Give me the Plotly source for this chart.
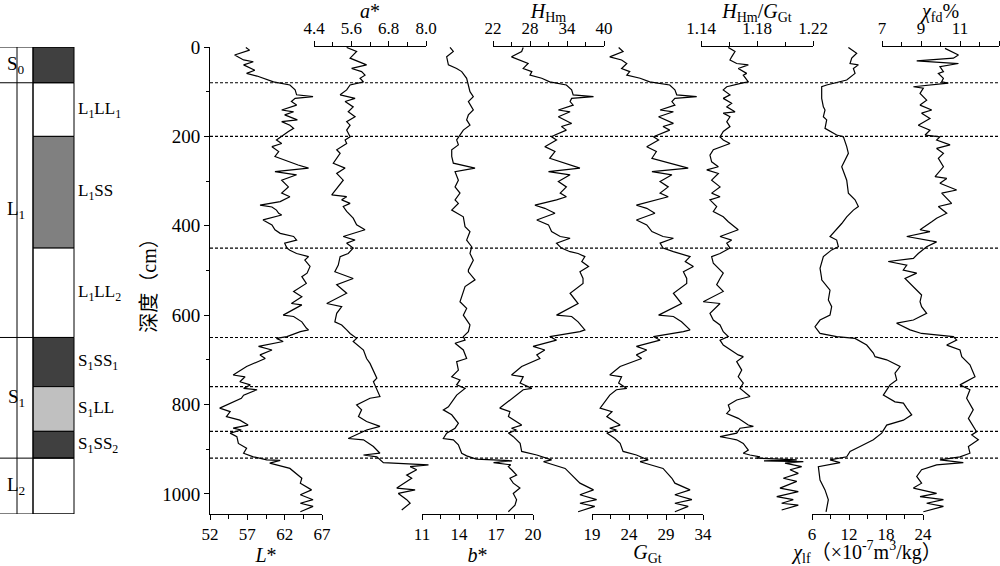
import plotly.graph_objects as go

# ---------------- data ----------------
boundary_depths = [80, 200, 450, 650, 760, 860, 920]

layer_top = [0, 80, 200, 450, 650, 760, 860, 920]
layer_bottom = [80, 200, 450, 650, 760, 860, 920, 1045]
layer_colors = ["#404040", "#ffffff", "#808080", "#ffffff", "#404040", "#c0c0c0", "#404040", "#ffffff"]
layer_labels = ["", "L<sub>1</sub>LL<sub>1</sub>", "L<sub>1</sub>SS", "L<sub>1</sub>LL<sub>2</sub>",
                "S<sub>1</sub>SS<sub>1</sub>", "S<sub>1</sub>LL", "S<sub>1</sub>SS<sub>2</sub>", ""]
group_labels = ["S<sub>0</sub>", "L<sub>1</sub>", "S<sub>1</sub>", "L<sub>2</sub>"]
group_top = [0, 80, 650, 920]
group_bottom = [80, 650, 920, 1045]

L_depth = [1, 7, 18, 29, 33, 40, 52, 59, 65, 70, 78, 85, 96, 107, 111, 115, 122, 130, 141, 145, 152, 163, 167, 175, 182, 189,
           201, 208, 216, 223, 234, 245, 264, 271, 279, 286, 298, 313, 327, 335, 346, 354, 358, 365, 372, 376, 387, 398, 409,
           417, 424, 432, 439, 450, 455, 462, 469, 477, 491, 506, 514, 529, 547, 559, 574, 577, 600, 603, 615, 629, 633, 637,
           648, 652, 659, 670, 678, 689, 697, 715, 734, 738, 749, 756, 764, 767, 779, 786, 808, 816, 827, 835, 846, 853, 857,
           864, 872, 887, 898, 909, 917, 924, 925, 931, 943, 965, 976, 991, 1002, 1013, 1021, 1028, 1040]
L_val = [56.8, 57.3, 55.3, 56.5, 57.8, 56.5, 58.0, 56.9, 58.3, 59.1, 60.5, 62.7, 63.4, 63.6, 65.8, 63.4, 62.9, 63.6, 61.6, 63.2,
         62.0, 63.7, 61.6, 62.7, 63.2, 62.5, 61.4, 60.9, 61.6, 60.3, 61.2, 60.7, 63.8, 65.2, 60.7, 63.6, 61.6, 62.5, 61.6, 62.7,
         61.4, 58.7, 60.3, 60.9, 61.2, 61.6, 59.1, 60.3, 60.7, 61.4, 63.2, 63.6, 62.0, 62.3, 62.7, 63.6, 65.2, 64.7, 65.4, 65.0,
         64.3, 64.9, 63.2, 64.3, 62.9, 64.3, 61.8, 63.2, 64.3, 64.9, 65.2, 64.1, 62.3, 60.9, 61.8, 58.5, 60.3, 58.7, 59.4, 56.9,
         55.1, 56.7, 56.0, 57.4, 56.5, 58.3, 56.5, 56.2, 53.3, 54.7, 54.2, 56.0, 57.1, 55.1, 56.2, 54.7, 55.6, 55.8, 56.9, 56.5,
         57.8, 59.6, 61.4, 60.0, 62.7, 64.3, 64.1, 65.6, 64.1, 65.8, 64.1, 65.8, 64.1]

a_depth = [1, 10, 25, 40, 48, 55, 63, 70, 78, 85, 96, 107, 115, 122, 134, 145, 156, 167, 175, 186, 201, 208, 216, 230, 238, 260,
           271, 283, 298, 313, 331, 335, 342, 350, 357, 368, 383, 398, 409, 424, 432, 439, 450, 462, 469, 488, 503, 518, 532,
           551, 574, 581, 596, 615, 622, 633, 641, 652, 659, 678, 697, 708, 723, 741, 749, 782, 786, 801, 812, 827, 838, 849,
           857, 868, 876, 879, 894, 909, 913, 917, 930, 935, 939, 946, 958, 965, 987, 991, 999, 1013, 1021, 1036]
a_val = [5.45, 5.77, 5.56, 6.09, 5.61, 5.93, 6.04, 5.88, 5.99, 5.56, 5.45, 5.24, 5.72, 5.40, 5.66, 5.50, 5.72, 5.45, 5.56, 5.45,
         5.56, 5.40, 5.45, 5.13, 5.24, 5.02, 5.40, 5.13, 5.34, 5.18, 4.97, 5.45, 5.29, 5.56, 5.34, 5.45, 5.66, 5.77, 6.04, 5.34,
         5.72, 5.45, 5.66, 5.50, 5.24, 5.18, 5.07, 5.66, 5.13, 5.45, 4.81, 5.29, 5.13, 5.07, 5.29, 5.45, 5.56, 5.77, 5.66, 5.99,
         6.09, 6.20, 6.31, 6.42, 6.31, 6.52, 6.20, 5.77, 5.93, 5.83, 6.09, 6.52, 6.09, 5.77, 5.50, 5.99, 6.31, 6.52, 5.99, 6.42,
         6.63, 8.08, 7.49, 7.70, 7.38, 7.54, 7.06, 7.65, 7.11, 7.38, 7.49, 7.22]

b_depth = [1, 10, 22, 40, 48, 55, 70, 85, 100, 111, 122, 141, 152, 163, 175, 186, 201, 208, 219, 230, 245, 260, 271, 279, 298,
           313, 327, 342, 350, 365, 380, 402, 413, 432, 447, 462, 477, 499, 503, 521, 536, 570, 585, 600, 622, 637, 648, 656,
           663, 678, 697, 704, 723, 738, 745, 756, 764, 779, 805, 812, 823, 842, 853, 864, 876, 879, 890, 909, 915, 922, 926,
           930, 935, 939, 946, 958, 965, 976, 987, 999, 1013, 1025, 1040]
b_val = [13.27, 13.54, 13.00, 13.14, 13.81, 14.22, 14.62, 14.76, 14.89, 15.16, 14.76, 15.16, 14.76, 14.62, 14.89, 14.35, 13.95,
         13.81, 13.95, 13.41, 13.41, 13.54, 15.30, 13.68, 13.95, 13.68, 14.08, 13.68, 13.95, 13.41, 14.35, 14.49, 14.89, 14.62,
         15.03, 14.89, 15.16, 14.76, 14.76, 15.30, 14.49, 14.08, 14.62, 14.35, 14.89, 14.76, 14.35, 14.49, 13.68, 14.35, 14.62,
         13.81, 13.95, 13.41, 14.08, 13.81, 14.49, 13.81, 13.14, 12.73, 13.41, 13.95, 13.68, 13.00, 12.73, 13.54, 13.95, 14.22,
         14.62, 15.40, 18.30, 16.80, 18.20, 18.00, 18.27, 18.67, 18.13, 18.40, 18.94, 18.40, 18.67, 18.54, 18.00]

H_depth = [1, 10, 22, 29, 37, 48, 55, 63, 70, 78, 85, 96, 107, 111, 115, 122, 130, 141, 145, 156, 171, 178, 186, 197, 201, 208,
           223, 234, 249, 271, 279, 286, 301, 313, 327, 335, 342, 354, 361, 372, 387, 398, 413, 424, 428, 439, 450, 458, 462,
           469, 480, 491, 503, 518, 529, 551, 574, 600, 603, 615, 633, 637, 648, 656, 670, 678, 689, 697, 715, 734, 738, 752,
           764, 767, 779, 808, 816, 827, 846, 853, 857, 864, 872, 887, 905, 913, 924, 928, 943, 965, 976, 991, 1002, 1013, 1021,
           1028, 1040]
H_val = [26.9, 26.65, 25.0, 26.4, 27.7, 26.9, 28.3, 28.0, 29.9, 31.2, 33.9, 34.75, 35.0, 38.3, 34.75, 34.5, 35.0, 32.6, 34.5,
         32.6, 34.75, 33.1, 33.9, 32.05, 31.5, 32.3, 30.4, 32.05, 31.2, 36.1, 31.0, 34.5, 32.6, 33.9, 32.9, 33.9, 32.3, 28.8, 30.4,
         32.05, 29.1, 31.0, 31.5, 32.9, 34.5, 32.3, 33.1, 34.5, 35.8, 36.9, 36.4, 37.5, 36.1, 36.6, 36.6, 34.5, 35.8, 32.3, 34.75,
         35.8, 36.9, 36.1, 31.2, 32.3, 28.5, 30.4, 29.1, 29.6, 26.65, 25.0, 26.9, 26.4, 28.3, 26.9, 25.8, 23.1, 24.75, 24.5,
         26.65, 25.0, 25.8, 24.5, 25.3, 26.4, 26.65, 29.1, 31.5, 30.2, 33.7, 35.3, 36.1, 38.3, 36.1, 38.8, 36.1, 38.5, 35.8]

G_depth = [1, 10, 22, 29, 37, 48, 55, 63, 70, 78, 85, 96, 107, 111, 115, 122, 130, 141, 145, 156, 171, 178, 186, 201, 208, 223,
           234, 249, 271, 279, 286, 301, 313, 327, 335, 342, 354, 361, 372, 387, 398, 413, 424, 428, 439, 450, 458, 469, 480,
           491, 503, 518, 529, 551, 574, 600, 603, 615, 633, 637, 648, 656, 670, 678, 689, 697, 715, 734, 738, 752, 764, 767,
           779, 808, 816, 827, 846, 853, 857, 864, 876, 887, 905, 913, 924, 928, 943, 965, 976, 991, 1002, 1013, 1021, 1028, 1040]
G_val = [22.6, 23.2, 21.4, 23.0, 23.7, 23.0, 24.1, 23.7, 25.5, 26.8, 29.5, 30.2, 30.45, 33.15, 30.2, 29.8, 30.2, 28.2, 30.0, 28.0,
         30.0, 28.6, 29.5, 27.3, 28.0, 26.4, 27.7, 27.1, 32.0, 27.1, 29.8, 28.2, 29.3, 28.2, 29.3, 27.7, 25.0, 26.4, 27.5, 25.0,
         26.4, 27.1, 28.6, 30.0, 28.2, 28.6, 30.0, 32.25, 31.6, 32.7, 31.35, 31.8, 31.8, 30.0, 31.1, 28.0, 30.0, 31.1, 32.25, 31.35,
         27.3, 28.2, 25.0, 26.4, 25.0, 25.7, 22.8, 21.4, 23.0, 22.6, 23.7, 22.3, 21.4, 20.1, 21.7, 21.0, 22.8, 21.4, 22.3, 21.0,
         22.1, 22.8, 23.2, 25.0, 26.6, 25.5, 28.6, 29.8, 30.2, 32.25, 30.2, 32.5, 30.2, 32.0, 30.2]

HG_depth = [1, 10, 22, 29, 37, 40, 48, 59, 63, 78, 81, 89, 96, 107, 115, 126, 134, 145, 148, 156, 167, 178, 189, 201, 208, 216,
            230, 242, 257, 268, 275, 283, 298, 313, 327, 335, 342, 357, 368, 380, 391, 409, 424, 432, 439, 450, 462, 469, 484,
            506, 518, 532, 547, 570, 574, 596, 611, 622, 637, 648, 656, 667, 689, 693, 704, 723, 738, 752, 764, 782, 790, 801,
            812, 820, 831, 846, 849, 853, 864, 872, 876, 879, 887, 902, 909, 913, 917, 920, 924, 926, 928, 931, 939, 946, 954,
            965, 972, 987, 995, 1006, 1013, 1021, 1025, 1036]
HG_val = [1.1595, 1.1643, 1.1619, 1.1607, 1.1655, 1.1738, 1.1666, 1.1726, 1.1702, 1.1738, 1.1691, 1.1584, 1.1559, 1.1607,
          1.1559, 1.1619, 1.1584, 1.1643, 1.1559, 1.1607, 1.1584, 1.1607, 1.1559, 1.1536, 1.1559, 1.1607, 1.1488, 1.1464,
          1.1476, 1.1524, 1.1441, 1.1524, 1.1476, 1.1536, 1.1476, 1.1536, 1.1464, 1.1512, 1.1488, 1.1559, 1.1595, 1.1666,
          1.1536, 1.1619, 1.1584, 1.1607, 1.1536, 1.1476, 1.1488, 1.1559, 1.1536, 1.1512, 1.1559, 1.1416, 1.1536, 1.1464,
          1.1488, 1.1536, 1.1559, 1.1595, 1.1536, 1.1559, 1.1666, 1.1702, 1.1655, 1.1691, 1.1666, 1.1702, 1.1679, 1.1750,
          1.1655, 1.1595, 1.1607, 1.1584, 1.1666, 1.1738, 1.1774, 1.1679, 1.1655, 1.1536, 1.1607, 1.1655, 1.1702, 1.1738,
          1.1702, 1.1750, 1.1821, 1.1798, 1.2084, 1.1850, 1.2131, 1.2000, 1.2119, 1.2036, 1.2095, 1.1988, 1.2084, 1.1964,
          1.2095, 1.1941, 1.2059, 1.1976, 1.2095, 1.1976]

xlf_depth = [1, 14, 25, 37, 40, 48, 59, 74, 85, 89, 115, 134, 141, 156, 163, 182, 197, 201, 223, 238, 268, 298, 327, 342, 357,
             365, 380, 395, 424, 432, 447, 454, 469, 484, 495, 518, 521, 544, 566, 581, 600, 611, 626, 641, 648, 652, 667, 685,
             693, 700, 715, 730, 745, 756, 779, 794, 797, 808, 823, 835, 846, 864, 879, 894, 905, 917, 924, 930, 935, 939, 969,
             991, 1013, 1040]
xlf_val = [11.9, 13.25, 12.44, 12.17, 13.52, 12.71, 12.98, 11.63, 8.38, 7.57, 7.57, 7.84, 8.11, 7.84, 8.38, 8.11, 10.0, 11.09,
           11.63, 11.9, 10.82, 11.63, 11.9, 12.98, 13.52, 12.71, 11.63, 10.82, 8.92, 10.0, 10.28, 9.19, 7.84, 7.57, 7.3, 7.57,
           7.57, 8.92, 8.65, 9.19, 8.92, 7.3, 6.49, 7.3, 10.0, 12.98, 14.87, 15.95, 16.22, 18.11, 20.28, 19.46, 19.74, 18.65,
           17.57, 19.46, 20.82, 21.36, 22.17, 20.82, 18.11, 17.3, 15.95, 13.79, 12.17, 11.63, 8.92, 10.55, 8.38, 7.03, 7.3,
           8.11, 8.65, 8.28]

xfd_depth = [3, 18, 25, 31, 37, 44, 55, 59, 70, 78, 81, 89, 92, 104, 119, 130, 141, 148, 160, 175, 186, 197, 201, 208, 219, 227,
             238, 249, 268, 290, 294, 305, 320, 327, 350, 357, 372, 383, 391, 409, 413, 424, 436, 447, 462, 473, 480, 488, 499,
             506, 518, 529, 555, 570, 581, 596, 611, 618, 633, 641, 648, 656, 667, 678, 693, 711, 738, 756, 767, 786, 812, 831,
             861, 868, 879, 894, 909, 917, 924, 930, 935, 946, 961, 976, 987, 999, 1006, 1013, 1021, 1028, 1040]
xfd_val = [10.23, 10.92, 10.66, 8.78, 10.92, 9.97, 10.15, 9.89, 10.15, 10.06, 10.40, 8.61, 9.12, 8.95, 9.29, 8.95, 9.55, 9.03,
           9.46, 8.86, 9.46, 9.21, 9.97, 9.80, 10.49, 9.80, 10.15, 9.89, 10.15, 9.72, 10.32, 9.97, 10.83, 10.06, 10.57, 9.89,
           10.32, 9.80, 9.55, 8.95, 9.46, 8.27, 9.80, 9.29, 8.86, 8.61, 7.32, 8.27, 8.09, 8.78, 8.18, 8.44, 9.03, 8.95, 9.03,
           9.29, 8.61, 7.75, 8.44, 9.03, 10.66, 10.83, 10.32, 11.00, 11.09, 11.51, 11.77, 11.00, 11.51, 11.34, 11.68, 11.43,
           11.85, 11.60, 11.94, 11.43, 11.51, 11.00, 9.97, 11.17, 9.80, 9.03, 8.78, 9.03, 8.61, 9.80, 8.95, 10.15, 9.29,
           10.15, 9.12]

depth_ticks = [0, 200, 400, 600, 800, 1000]
depth_minor = [100, 300, 500, 700, 900]
depth_range = [1045, 0]

# axis specs: (title, side, domain, range, major ticks, minor ticks, format, depth list, value list, title standoff)
series = [
    ("<i>L</i>*", "bottom", [0.210, 0.322], [52, 67], [52, 57, 62, 67], [54.5, 59.5, 64.5], "", L_depth, L_val, 5),
    ("<i>a</i>*", "top", [0.314, 0.426], [4.4, 8.0], [4.4, 5.6, 6.8, 8.0], [5.0, 6.2, 7.4], ".1f", a_depth, a_val, 5),
    ("<i>b</i>*", "bottom", [0.422, 0.533], [11, 20], [11, 14, 17, 20], [12.5, 15.5, 18.5], "", b_depth, b_val, 5),
    ("<i>H</i><sub>Hm</sub>", "top", [0.493, 0.604], [22, 40], [22, 28, 34, 40], [25, 31, 37], "", H_depth, H_val, 5),
    ("<i>G</i><sub>Gt</sub>", "bottom", [0.592, 0.703], [19, 34], [19, 24, 29, 34], [21.5, 26.5, 31.5], "", G_depth, G_val, 5),
    ("<i>H</i><sub>Hm</sub>/<i>G</i><sub>Gt</sub>", "top", [0.701, 0.813], [1.14, 1.22], [1.14, 1.18, 1.22], [1.16, 1.20], ".2f",
     HG_depth, HG_val, 6),
    ("<i>χ</i><sub>lf</sub>（×10<sup>-7</sup>m<sup>3</sup>/kg）", "bottom", [0.812, 0.923], [6, 24], [6, 12, 18, 24], [9, 15, 21],
     "", xlf_depth, xlf_val, 7),
    ("<i>χ</i><sub>fd</sub>%", "top", [0.882, 0.999], [7, 13], [7, 9, 11, 13], [8, 10, 12], "", xfd_depth, xfd_val, 6),
]

FONT = "Liberation Serif, Noto Sans CJK SC, serif"


def axname(k):
    return "xaxis" if k == 1 else "xaxis%d" % k


def axref(k):
    return "x" if k == 1 else "x%d" % k


fig = go.Figure()
layout = dict(
    width=1000, height=566,
    margin=dict(l=0, r=0, t=47, b=52, pad=0),
    paper_bgcolor="white", plot_bgcolor="rgba(0,0,0,0)",
    showlegend=False, hovermode=False,
    font=dict(family=FONT, size=17, color="black"),
    template="none",
)

n = len(series)
y_anchor_axis = axref(n + 1)  # the L* display axis starts where the depth axis sits
layout["yaxis"] = dict(
    range=depth_range, domain=[0, 1], anchor=y_anchor_axis, side="left",
    showline=True, linecolor="black", linewidth=1,
    ticks="outside", ticklen=5, tickcolor="black", tickvals=depth_ticks,
    minor=dict(tickvals=depth_minor, ticks="outside", ticklen=3, tickcolor="black", showgrid=False),
    showgrid=False, zeroline=False, automargin=False,
    tickfont=dict(size=19, family=FONT),
    title=dict(text="深度（cm）", font=dict(size=20, family=FONT), standoff=0),
)

for i, (title, side, dom, rng, tv, mv, fmt, dep, val, so) in enumerate(series):
    data_ax = i + 1
    disp_ax = n + i + 1
    span = rng[1] - rng[0]
    per = span / (dom[1] - dom[0])
    full_rng = [rng[0] - dom[0] * per, rng[0] + (1 - dom[0]) * per]
    layout[axname(data_ax)] = dict(domain=[0, 1], range=full_rng, anchor="y",
                                   showline=False, showticklabels=False, ticks="",
                                   showgrid=False, zeroline=False, automargin=False)
    eps = span * 1e-6
    layout[axname(disp_ax)] = dict(
        domain=dom, range=[rng[0] - eps, rng[1] + eps], anchor="y", side=side,
        showline=True, linecolor="black", linewidth=1,
        ticks="outside", ticklen=5, tickcolor="black", tickvals=tv, tickformat=fmt,
        minor=dict(tickvals=mv, ticks="outside", ticklen=4, tickcolor="black", showgrid=False),
        showgrid=False, zeroline=False, automargin=False,
        tickfont=dict(size=17, family=FONT),
        title=dict(text=title, font=dict(size=20, family=FONT), standoff=so),
    )
    fig.add_trace(go.Scatter(x=val, y=dep, mode="lines", line=dict(color="black", width=1.2),
                             xaxis=axref(data_ax), yaxis="y", hoverinfo="skip"))
    fig.add_trace(go.Scatter(x=[rng[0]], y=[0], mode="markers", marker=dict(opacity=0, size=1),
                             xaxis=axref(disp_ax), yaxis="y", hoverinfo="skip"))

# stratigraphic column as horizontal bars
col_ax = 2 * n + 1
col_px = [33, 74]
dom_px = [28, 79]
col_per = 1.0 / (col_px[1] - col_px[0])
layout[axname(col_ax)] = dict(domain=[dom_px[0] / 1000, dom_px[1] / 1000],
                              range=[(dom_px[0] - col_px[0]) * col_per, 1 + (dom_px[1] - col_px[1]) * col_per],
                              anchor="y", showline=False, showticklabels=False, ticks="",
                              showgrid=False, zeroline=False, automargin=False)
mids = [(a + b) / 2 for a, b in zip(layer_top, layer_bottom)]
thick = [b - a for a, b in zip(layer_top, layer_bottom)]
fig.add_trace(go.Bar(x=[1] * len(mids), y=mids, width=thick, base=0, orientation="h",
                     marker=dict(color=layer_colors, line=dict(color="black", width=1)),
                     xaxis=axref(col_ax), yaxis="y", hoverinfo="skip"))

shapes = []
for d in boundary_depths:
    shapes.append(dict(type="line", xref="paper", yref="y", x0=0.21, x1=1.0, y0=d, y1=d,
                       line=dict(color="black", width=1.2, dash="3px,2px")))
for d in group_top + [group_bottom[-1]]:
    shapes.append(dict(type="line", xref="paper", yref="y", x0=0.0, x1=0.074, y0=d, y1=d,
                       line=dict(color="black", width=1)))
shapes.append(dict(type="line", xref="paper", yref="y", x0=0.017, x1=0.017, y0=0, y1=group_bottom[-1],
                   line=dict(color="black", width=1)))
shapes.append(dict(type="line", xref="paper", yref="y", x0=0.033, x1=0.033, y0=0, y1=group_bottom[-1] + 14,
                   line=dict(color="black", width=1)))
layout["shapes"] = shapes

ann = []
for name, a, b in zip(group_labels, group_top, group_bottom):
    ann.append(dict(text=name, xref="paper", yref="y", x=0.016, y=(a + b) / 2, showarrow=False,
                    xanchor="center", yanchor="middle", font=dict(size=19, family=FONT)))
for name, a, b in zip(layer_labels, layer_top, layer_bottom):
    if name:
        ann.append(dict(text=name, xref="paper", yref="y", x=0.076, y=(a + b) / 2, showarrow=False,
                        xanchor="left", yanchor="middle", font=dict(size=17, family=FONT)))
layout["annotations"] = ann

fig.update_layout(**layout)
fig.write_html("out.html", config={"displayModeBar": False},
               post_script="document.body.style.margin='0';document.body.style.overflow='hidden';")
